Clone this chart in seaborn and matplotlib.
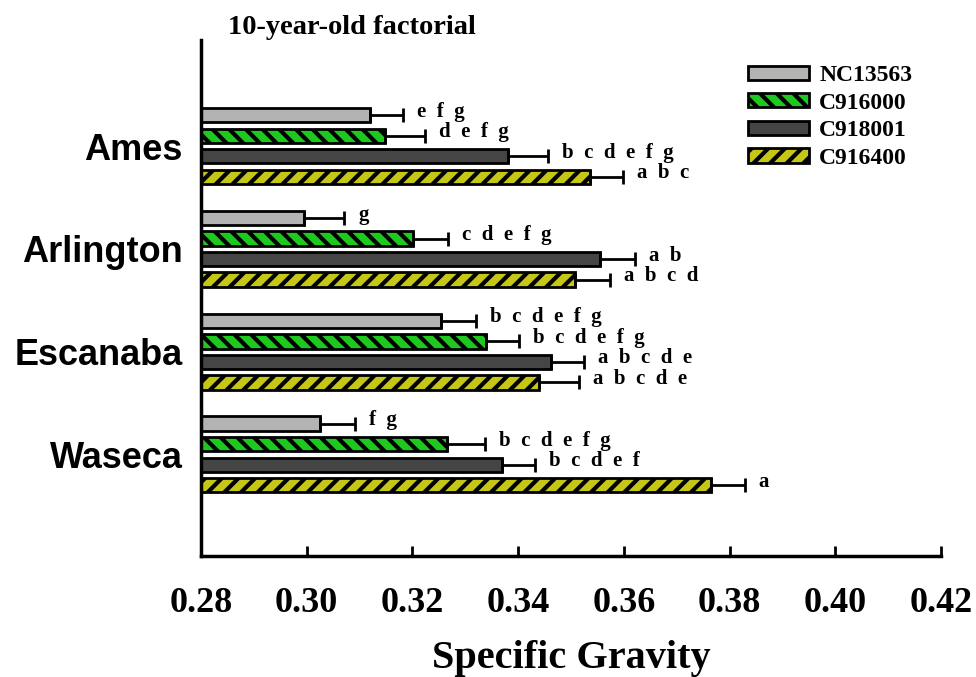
import matplotlib
matplotlib.use("Agg")
import matplotlib.pyplot as plt
import numpy as np
import pandas as pd
import seaborn as sns

# data
sites = ["Ames", "Arlington", "Escanaba", "Waseca"]
cultivars = ["NC13563", "C916000", "C918001", "C916400"]
sg_nc13563 = [0.3120, 0.2995, 0.3254, 0.3025]
sg_c916000 = [0.3148, 0.3201, 0.3339, 0.3265]
sg_c918001 = [0.3381, 0.3555, 0.3462, 0.3369]
sg_c916400 = [0.3536, 0.3508, 0.3439, 0.3765]
se_nc13563 = [0.0062, 0.0076, 0.0066, 0.0066]
se_c916000 = [0.0076, 0.0066, 0.0063, 0.0072]
se_c918001 = [0.0075, 0.0066, 0.0063, 0.0063]
se_c916400 = [0.0062, 0.0066, 0.0076, 0.0064]
letters_nc13563 = ["e f g", "g", "b c d e f g", "f g"]
letters_c916000 = ["d e f g", "c d e f g", "b c d e f g", "b c d e f g"]
letters_c918001 = ["b c d e f g", "a b", "a b c d e", "b c d e f"]
letters_c916400 = ["a b c", "a b c d", "a b c d e", "a"]

colors = ["#b3b3b3", "#1fc81f", "#454545", "#c6c617"]
hatches = ["", "\\\\", "", "//"]

means = [sg_nc13563, sg_c916000, sg_c918001, sg_c916400]
errs = [se_nc13563, se_c916000, se_c918001, se_c916400]
letters = [letters_nc13563, letters_c916000, letters_c918001, letters_c916400]

df = pd.DataFrame(
    {
        "site": np.tile(sites, len(cultivars)),
        "cultivar": np.repeat(cultivars, len(sites)),
        "sg": np.concatenate(means),
    }
)

sns.set_style("white")
plt.rcParams["hatch.linewidth"] = 3.0
plt.rcParams["text.color"] = "black"
plt.rcParams["xtick.color"] = "black"
plt.rcParams["ytick.color"] = "black"
serif = ["Liberation Serif", "DejaVu Serif"]
sans = ["Liberation Sans", "DejaVu Sans"]

fig = plt.figure(figsize=(9.76, 6.77), dpi=100)
ax = fig.add_axes([0.2059, 0.1787, 0.7582, 0.7622])

sns.barplot(
    data=df,
    y="site",
    x="sg",
    hue="cultivar",
    hue_order=cultivars,
    order=sites,
    orient="h",
    palette=colors,
    saturation=1,
    width=0.8,
    gap=0.3,
    edgecolor="black",
    linewidth=2,
    errorbar=None,
    ax=ax,
)

## hatches, error bars and significance letters
bar_containers = list(ax.containers)
for k, cont in enumerate(bar_containers):
    for j, bar in enumerate(cont.patches):
        bar.set_hatch(hatches[k])
        yc = bar.get_y() + bar.get_height() / 2
        val = bar.get_width()
        ax.errorbar(
            val, yc, xerr=[[0], [errs[k][j]]],
            fmt="none", ecolor="black", elinewidth=2, capsize=5, capthick=2,
            zorder=3,
        )
        ax.annotate(
            "  ".join(letters[k][j].split()), (val + errs[k][j], yc),
            xytext=(10, 2.5), textcoords="offset points",
            ha="left", va="center", fontsize=15, fontweight="bold",
            family=serif, color="black",
        )

ax.set_xlim(0.28, 0.42)
ax.set_ylim(3.988, -1.031)
ax.set_xticks(np.arange(0.28, 0.4201, 0.02))
ax.set_xticklabels([f"{t:.2f}" for t in np.arange(0.28, 0.4201, 0.02)],
                   family=serif, fontsize=26, fontweight="bold")
ax.set_yticks(range(len(sites)))
ax.set_yticklabels(sites, family=sans, fontsize=26, fontweight="bold")
ax.tick_params(axis="x", bottom=True, direction="in", length=7, width=2,
               pad=22, colors="black")
ax.tick_params(axis="y", left=False, length=0, pad=13, colors="black")
ax.set_xlabel("Specific Gravity", family=serif, fontsize=29, fontweight="bold",
              labelpad=15, color="black")
ax.set_ylabel("")
for s in ["top", "right"]:
    ax.spines[s].set_visible(False)
for s in ["left", "bottom"]:
    ax.spines[s].set_linewidth(2.5)
    ax.spines[s].set_color("black")

handles, labels = ax.get_legend_handles_labels()
for h, hatch in zip(handles, hatches):
    h.set_hatch(hatch)
ax.legend(
    handles, labels, loc="upper left", bbox_to_anchor=(748 / 976, 1 - 65 / 677),
    bbox_transform=fig.transFigure, frameon=False, borderpad=0, borderaxespad=0,
    handlelength=2.6, handleheight=0.55, handletextpad=0.42, labelspacing=0.28,
    prop={"family": serif, "size": 17, "weight": "bold"},
)

fig.text(228 / 976, 1 - 27 / 677, "10-year-old factorial", family=serif,
         fontsize=20.5, fontweight="bold", va="center", ha="left")

fig.savefig("out.png", dpi=100)
